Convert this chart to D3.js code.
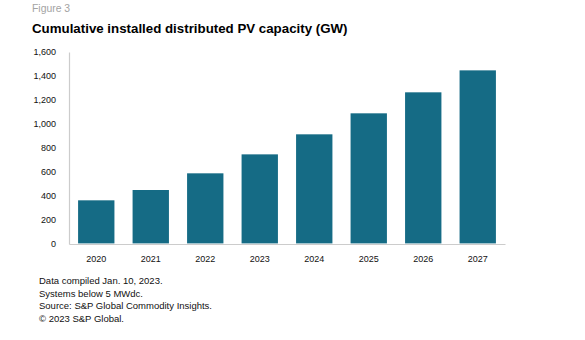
<!DOCTYPE html>
<html>
<head>
<meta charset="utf-8">
<script src="https://cdn.jsdelivr.net/npm/d3@7"></script>
<style>
  body { margin: 0; background: #fff; }
  svg { display: block; font-family: "Liberation Sans", Arial, sans-serif; }
</style>
</head>
<body>
<svg id="pv_capacity" width="585" height="340"></svg>
<script>
// cumulative distributed PV capacity, GW
const years = ["2020", "2021", "2022", "2023", "2024", "2025", "2026", "2027"];
const capacity = [364, 450, 589, 747, 914, 1089, 1264, 1447];
const yTicks = [0, 200, 400, 600, 800, 1000, 1200, 1400, 1600];
const notes = [
  "Data compiled Jan. 10, 2023.",
  "Systems below 5 MWdc.",
  "Source: S&P Global Commodity Insights.",
  "\u00a9 2023 S&P Global."
];

const margin = { top: 52, right: 80, bottom: 96, left: 69 };
const width = 585 - margin.left - margin.right,
  height = 340 - margin.top - margin.bottom;

const svg = d3.select("#pv_capacity");

svg.append("text")
  .attr("x", 32).attr("y", 12)
  .attr("fill", "#a3a3a3")
  .attr("font-size", "10.4px")
  .text("Figure 3");

svg.append("text")
  .attr("x", 32).attr("y", 32.5)
  .attr("fill", "#000")
  .attr("font-size", "13.3px")
  .attr("font-weight", "bold")
  .text("Cumulative installed distributed PV capacity (GW)");

const g = svg.append("g")
  .attr("transform", "translate(" + margin.left + "," + margin.top + ")");

const x = d3.scaleBand()
  .domain(years)
  .range([0, width])
  .paddingInner(0.333)
  .paddingOuter(0.1667);

const y = d3.scaleLinear().domain([0, 1600]).range([height, 0]);

// Y-axis
const yAxis = g.append("g")
  .call(d3.axisLeft(y).tickValues(yTicks).tickFormat(d3.format(",")).tickSize(0).tickPadding(13));
yAxis.select(".domain").attr("stroke", "#cccccc").attr("stroke-width", 1.2);
yAxis.selectAll("text").attr("font-size", "9px").attr("fill", "#111").attr("font-family", null);

// X-axis
const xAxis = g.append("g")
  .attr("transform", "translate(0," + height + ")")
  .call(d3.axisBottom(x).tickSize(0).tickPadding(12));
xAxis.select(".domain").attr("stroke", "#cccccc").attr("stroke-width", 1.2);
xAxis.selectAll("text").attr("font-size", "9px").attr("fill", "#111").attr("font-family", null);

g.selectAll(".bar")
  .data(capacity)
  .enter()
  .append("rect")
  .attr("class", "bar")
  .attr("x", (d, i) => x(years[i]))
  .attr("width", x.bandwidth())
  .attr("y", (d) => y(d))
  .attr("height", (d) => y(0) - y(d) - 0.6)
  .attr("fill", "#156b85");

svg.append("g")
  .selectAll("text")
  .data(notes)
  .enter()
  .append("text")
  .attr("x", 39)
  .attr("y", (d, i) => 284 + i * 12.6)
  .attr("font-size", "9.5px")
  .attr("fill", "#111")
  .text((d) => d);
</script>
</body>
</html>
